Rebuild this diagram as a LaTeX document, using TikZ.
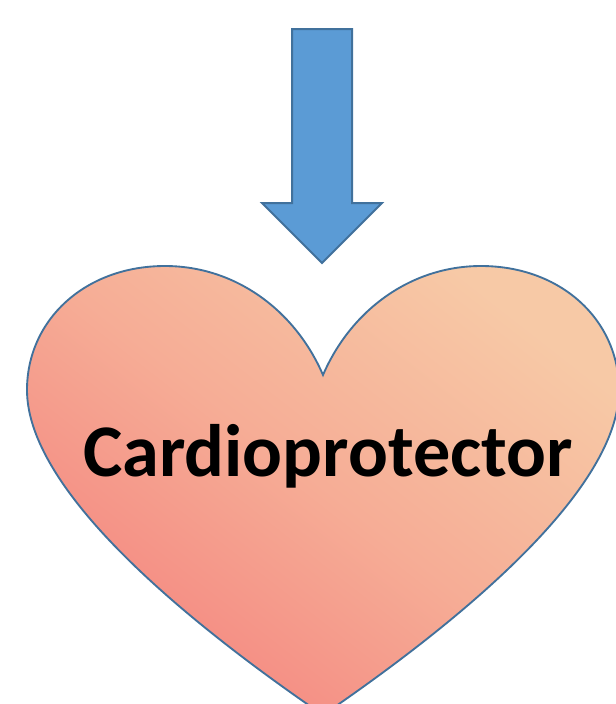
\documentclass[tikz,border=0pt]{standalone}
\usepackage{fontspec}
\setmainfont{Carlito}
\usepackage{xcolor}
\usepackage{tikz}
\usetikzlibrary{positioning}
\definecolor{ArrowFill}{HTML}{5B9BD5}
\definecolor{Edge}{HTML}{41719C}
\definecolor{HeartLow}{HTML}{F4857F}
\definecolor{HeartHigh}{HTML}{F7C9A6}

\begin{document}
\begin{tikzpicture}[
  x=0.75pt,y=-0.75pt,
  downarrow/.style={draw=Edge,line width=1.5pt,fill=ArrowFill,line join=miter},
  heart/.style={draw=Edge,line width=1.4pt,bottom color=HeartLow,top color=HeartHigh,middle color=HeartMid,shading angle=-38},
  heartlabel/.style={anchor=base,inner sep=0pt,font=\fontsize{55.7}{66}\selectfont\bfseries}
]
  \colorlet{HeartMid}{HeartLow!42!HeartHigh}
  \useasboundingbox (0,0) rectangle (616,704);
  \draw[downarrow] (292,29) -- (352,29) -- (352,203) -- (382,203) -- (322,263) -- (262,203) -- (292,203) -- cycle;
  \shade[heart] (323,375) .. controls (295,310) and (235,266) .. (165,266)
    .. controls (85,266) and (27,320) .. (27,390)
    .. controls (27,480) and (155,600) .. (323,715)
    .. controls (491,600) and (619,480) .. (619,390)
    .. controls (619,320) and (561,266) .. (481,266)
    .. controls (411,266) and (351,310) .. cycle;
  \node[heartlabel] (cardio) at (328,476) {Cardioprotector};
\end{tikzpicture}
\end{document}
